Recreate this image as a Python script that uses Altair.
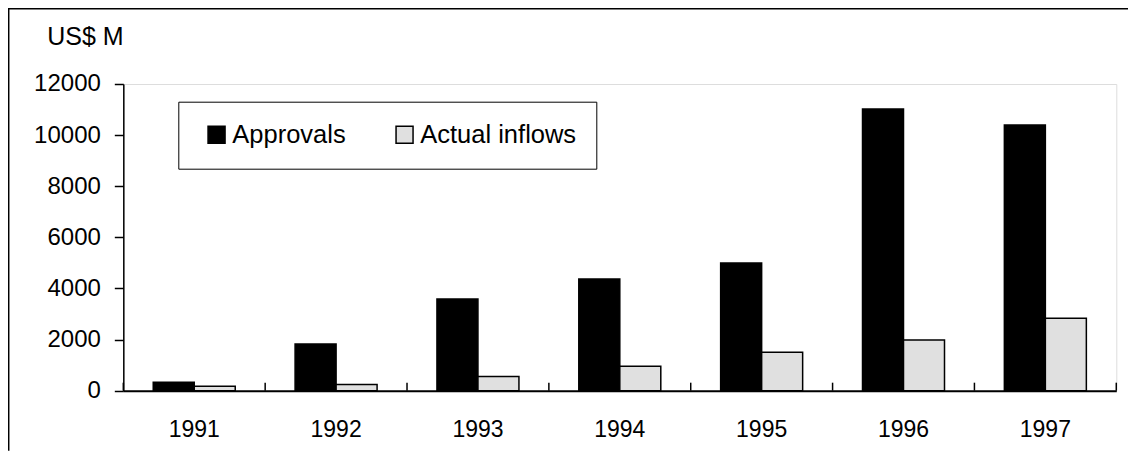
import altair as alt
import pandas as pd

years = ["1991", "1992", "1993", "1994", "1995", "1996", "1997"]
series_names = ["Approvals", "Actual inflows"]
approvals = [330, 1830, 3590, 4370, 5000, 11020, 10400]
actual_inflows = [170, 240, 560, 960, 1500, 1980, 2830]
y_ticks = [0, 2000, 4000, 6000, 8000, 10000, 12000]

rows = []
for i, yr in enumerate(years):
    rows.append({"year": yr, "series": series_names[0], "value": approvals[i]})
    rows.append({"year": yr, "series": series_names[1], "value": actual_inflows[i]})
df = pd.DataFrame(rows)
ticks_df = pd.DataFrame({"year": years})
last_df = pd.DataFrame({"year": [years[-1]]})
frame_df = pd.DataFrame({"k": [0]})

W = 993
H = 306.7
PAD_R = 12
PAD_B = 60
FONT = "Liberation Sans"

xscale = alt.Scale(domain=years, paddingInner=0, paddingOuter=0)

bars = alt.Chart(df).mark_bar(stroke="black", strokeWidth=1.5).encode(
    x=alt.X("year:N", scale=xscale, sort=years,
            axis=alt.Axis(title=None, labelAngle=0, ticks=False, tickSize=0,
                          labelPadding=28, labelFontSize=23, labelFont=FONT,
                          labelColor="black", domainColor="black", domainWidth=2)),
    xOffset=alt.XOffset("series:N", sort=series_names,
                        scale=alt.Scale(paddingInner=0, paddingOuter=0.73)),
    y=alt.Y("value:Q", scale=alt.Scale(domain=[0, 12000], nice=False),
            axis=alt.Axis(values=y_ticks, format="d", grid=False, title="US$ M",
                          titleAngle=0, titleX=-76.5, titleY=-39, titleAlign="left",
                          titleBaseline="alphabetic", titleFontSize=25,
                          titleFontWeight="normal", titleFont=FONT, titleColor="black",
                          labelFontSize=24, labelFont=FONT, labelColor="black",
                          labelPadding=14, tickSize=9, tickWidth=1.5,
                          tickColor="black", domainColor="black", domainWidth=1.5)),
    color=alt.Color("series:N", sort=series_names,
                    scale=alt.Scale(domain=series_names, range=["#000000", "#e0e0e0"]),
                    legend=alt.Legend(title=None, orient="none", legendX=55, legendY=17.7,
                                      direction="horizontal", symbolType="square",
                                      symbolSize=289, symbolStrokeColor="black",
                                      symbolStrokeWidth=1.5, symbolOffset=5.5,
                                      labelFontSize=25.5, labelFont=FONT, labelColor="black",
                                      labelOffset=3, columnPadding=40, padding=20,
                                      strokeColor="black", fillColor="white")),
)

inner_ticks = alt.Chart(ticks_df).mark_rule(color="black", strokeWidth=1.5).encode(
    x=alt.X("year:N", sort=years, bandPosition=0),
    y=alt.value(H - 8),
    y2=alt.value(H),
)
end_tick = alt.Chart(last_df).mark_rule(color="black", strokeWidth=1.5).encode(
    x=alt.X("year:N", sort=years, bandPosition=1),
    y=alt.value(H - 8),
    y2=alt.value(H),
)

frame_top = alt.Chart(frame_df).mark_rule(color="black", strokeWidth=1.5).encode(
    x=alt.value(-115.3),
    x2=alt.value(W + PAD_R),
    y=alt.value(-75.2),
)
frame_left = alt.Chart(frame_df).mark_rule(color="black", strokeWidth=1.5).encode(
    x=alt.value(-114.6),
    y=alt.value(-76),
    y2=alt.value(H + PAD_B),
)

chart = alt.layer(frame_top, frame_left, bars, inner_ticks, end_tick).properties(
    width=W, height=H,
    padding={"left": 115.3, "top": 76, "right": PAD_R, "bottom": PAD_B},
    autosize=alt.AutoSizeParams(type="none"),
).configure_view(strokeWidth=0).configure(background="white")

chart.save("out.html", embed_options={"renderer": "svg", "actions": False})
